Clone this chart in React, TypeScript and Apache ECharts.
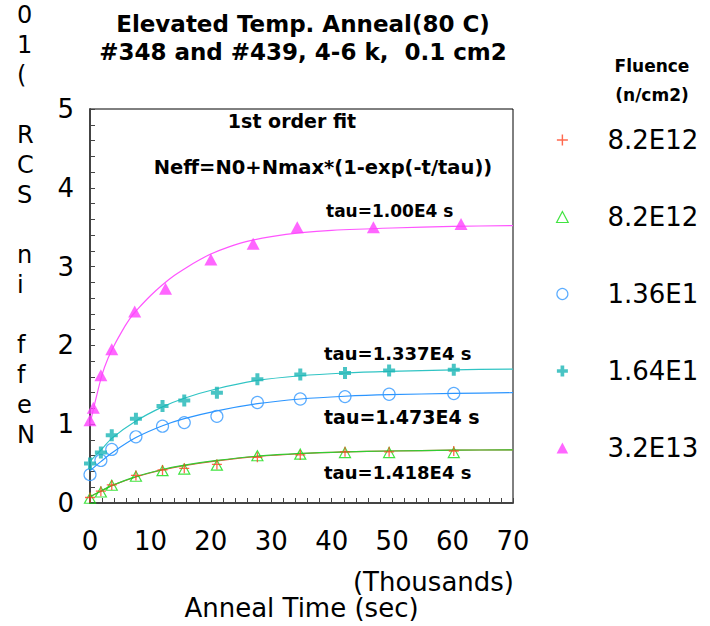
import React, { useEffect, useRef } from "react";
import * as echarts from "echarts";

// ---------- data (times in thousands of seconds, Neff in 1e10 SCR) ----------
const timesA = [0, 1.8, 3.6, 7.6, 12.0, 15.6, 21.0, 27.7, 34.8, 42.2, 49.5, 60.2];
const red82 = [0.07, 0.15, 0.23, 0.35, 0.42, 0.44, 0.49, 0.58, 0.61, 0.65, 0.65, 0.66];
const green82 = [0.06, 0.14, 0.225, 0.34, 0.41, 0.43, 0.48, 0.6, 0.62, 0.64, 0.64, 0.64];
const blue136 = [0.36, 0.54, 0.68, 0.84, 0.975, 1.02, 1.1, 1.275, 1.32, 1.35, 1.38, 1.39];
const cyan164 = [0.5, 0.64, 0.86, 1.07, 1.23, 1.3, 1.4, 1.57, 1.63, 1.65, 1.68, 1.69];
const timesB = [0, 0.55, 1.8, 3.6, 7.4, 12.5, 20.0, 27.0, 34.3, 46.9, 61.4];
const mag32 = [1.05, 1.21, 1.62, 1.95, 2.43, 2.72, 3.09, 3.29, 3.5, 3.5, 3.54];

// fitted curves
const fitTimes = [0, 1.8, 3.6, 7.6, 12, 15.6, 21, 27.7, 34.8, 42.2, 49.5, 60.2, 70];
const fitRed = [0.08, 0.15, 0.22, 0.33, 0.42, 0.475, 0.535, 0.59, 0.625, 0.648, 0.66, 0.67, 0.675];
const fitGreen = [0.08, 0.15, 0.22, 0.335, 0.425, 0.48, 0.54, 0.595, 0.63, 0.65, 0.66, 0.67, 0.675];
const fitBlue = [0.41, 0.525, 0.635, 0.83, 0.98, 1.07, 1.17, 1.26, 1.32, 1.355, 1.375, 1.39, 1.4];
const fitCyan = [0.53, 0.67, 0.82, 1.04, 1.22, 1.33, 1.45, 1.555, 1.615, 1.65, 1.67, 1.69, 1.7];
const fitMagTimes = [0, 1, 2, 3, 4, 5, 6, 7, 8, 10, 12, 14, 16, 18, 20, 23, 26, 30, 35, 40, 50, 60, 70];
const fitMag = [1.0, 1.33, 1.63, 1.84, 2.0, 2.14, 2.27, 2.38, 2.47, 2.63, 2.77, 2.89, 2.99, 3.08, 3.16, 3.25, 3.32, 3.38, 3.43, 3.46, 3.49, 3.51, 3.52];

// legend labels (as visible in the reference, where the last digit is cut off)
const legendLabels: Record<string, string> = {
  r82: "8.2E12",
  g82: "8.2E12",
  b136: "1.36E1",
  c164: "1.64E1",
  m32: "3.2E13",
};

const titleText = "Elevated Temp. Anneal(80 C)\n#348 and #439, 4-6 k,  0.1 cm2";
const yNameChars = ["0", "1", "(", " ", "R", "C", "S", " ", "n", "i", " ", "f", "f", "e", "N"];

const FONT = "DejaVu Sans";
const thinPlus = "path://M4.35,0H5.65V4.35H10V5.65H5.65V10H4.35V5.65H0V4.35H4.35Z";
const thickPlus = "path://M4,0H8V4H12V8H8V12H4V8H0V4H4Z";
const triPath = "path://M5,0L10,9.5L0,9.5Z";

const pairs = (xs: number[], ys: number[]) => xs.map((x, i) => [x, ys[i]]);

function txt(text: string, x: number, y: number, size: number, bold: boolean, align = "left", vAlign = "middle", extra: any = {}) {
  return {
    type: "text",
    x,
    y,
    silent: true,
    style: {
      text,
      fontSize: size,
      fontFamily: FONT,
      fontWeight: bold ? "bold" : "normal",
      fill: "#000",
      align,
      verticalAlign: vAlign,
      textAlign: align,
      textVerticalAlign: vAlign,
      ...extra,
    },
  };
}

export default function App() {
  const ref = useRef<HTMLDivElement>(null);
  useEffect(() => {
    if (!ref.current) return;
    const chart = echarts.init(ref.current, null, { renderer: "svg" });
    const fitLine = (name: string, xs: number[], ys: number[], color: string) => ({
      name,
      type: "line",
      data: pairs(xs, ys),
      smooth: 0.3,
      showSymbol: false,
      symbol: "none",
      lineStyle: { color, width: 1.2 },
      z: 2,
      silent: true,
    });
    const option: any = {
      animation: false,
      backgroundColor: "#fff",
      title: {
        text: titleText,
        left: 303,
        top: 10,
        padding: 0,
        textAlign: "center",
        textStyle: { fontFamily: FONT, fontWeight: "bold", fontSize: 23, lineHeight: 28, color: "#000" },
      },
      grid: {
        left: 90,
        right: 197,
        top: 109,
        bottom: 118,
        show: true,
        borderColor: "#000",
        borderWidth: 1,
        backgroundColor: "transparent",
      },
      xAxis: {
        type: "value",
        min: 0,
        max: 70,
        interval: 10,
        name: "Anneal Time (sec)",
        nameLocation: "middle",
        nameGap: 92,
        nameTextStyle: { fontFamily: FONT, fontSize: 26, color: "#000" },
        axisLine: { show: true, onZero: false, lineStyle: { color: "#444", width: 2 } },
        axisTick: { show: true, inside: true, length: 5, lineStyle: { color: "#444" } },
        minorTick: { show: true, splitNumber: 5, length: 5, lineStyle: { color: "#444" } },
        splitLine: { show: false },
        axisLabel: { fontFamily: FONT, fontSize: 26, color: "#000", margin: 25 },
      },
      yAxis: {
        type: "value",
        min: 0,
        max: 5,
        interval: 1,
        axisLine: { show: true, onZero: false, lineStyle: { color: "#444", width: 2 } },
        axisTick: { show: true, inside: true, length: 5, lineStyle: { color: "#444" } },
        minorTick: { show: true, splitNumber: 5, length: 5, lineStyle: { color: "#444" } },
        splitLine: { show: false },
        axisLabel: { fontFamily: FONT, fontSize: 26, color: "#000", margin: 16 },
      },
      legend: {
        orient: "vertical",
        left: 556,
        top: 127,
        itemWidth: 80,
        itemHeight: 11,
        itemGap: 51,
        selectedMode: false,
        padding: 0,
        data: [
          { name: "r82", itemStyle: { borderWidth: 0 } },
          { name: "g82", itemStyle: { borderWidth: 1.2 } },
          { name: "b136", itemStyle: { borderWidth: 1.2 } },
          { name: "c164", itemStyle: { borderWidth: 0 } },
          { name: "m32", itemStyle: { borderWidth: 0 } },
        ],
        formatter: (n: string) => legendLabels[n],
        textStyle: {
          fontFamily: FONT,
          fontSize: 26,
          lineHeight: 26,
          color: "#000",
          width: 92,
          overflow: "none",
        },
      },
      graphic: [
        txt(yNameChars.join("\n"), 17, 0, 24, false, "left", "top", { lineHeight: 30 }),
        txt("(Thousands)", 514, 582, 26, false, "right", "middle"),
        txt("Fluence", 652, 66, 17, true, "center", "middle"),
        txt("(n/cm2)", 652, 95, 17, true, "center", "middle"),
        txt("1st order fit", 292, 121, 19, true, "center", "middle"),
        txt("Neff=N0+Nmax*(1-exp(-t/tau))", 323, 167, 19.5, true, "center", "middle"),
        txt("tau=1.00E4 s", 326, 211, 17, true, "left", "middle"),
        txt("tau=1.337E4 s", 324, 353, 18, true, "left", "middle"),
        txt("tau=1.473E4 s", 324, 417, 19, true, "left", "middle"),
        txt("tau=1.418E4 s", 324, 472, 18, true, "left", "middle"),
      ],
      series: [
        fitLine("fit r82", fitTimes, fitRed, "#e0583a"),
        fitLine("fit g82", fitTimes, fitGreen, "#33cc33"),
        fitLine("fit b136", fitTimes, fitBlue, "#2b95ff"),
        fitLine("fit c164", fitTimes, fitCyan, "#30c4c4"),
        fitLine("fit m32", fitMagTimes, fitMag, "#ff55ff"),
        {
          name: "g82",
          type: "scatter",
          data: pairs(timesA, green82),
          symbol: triPath,
          symbolSize: [11, 10],
          itemStyle: { color: "rgba(255,255,255,0)", borderColor: "#11dd11", borderWidth: 1.2 },
          z: 3,
        },
        {
          name: "r82",
          type: "scatter",
          data: pairs(timesA, red82),
          symbol: thinPlus,
          symbolSize: 10,
          itemStyle: { color: "#ff4422" },
          z: 4,
        },
        {
          name: "b136",
          type: "scatter",
          data: pairs(timesA, blue136),
          symbol: "circle",
          symbolSize: 12,
          itemStyle: { color: "rgba(255,255,255,0)", borderColor: "#3399ff", borderWidth: 1.2 },
          z: 3,
        },
        {
          name: "c164",
          type: "scatter",
          data: pairs(timesA, cyan164),
          symbol: thickPlus,
          symbolSize: 12,
          itemStyle: { color: "#1bb5b5" },
          z: 3,
        },
        {
          name: "m32",
          type: "scatter",
          data: pairs(timesB, mag32),
          symbol: triPath,
          symbolSize: [13, 12],
          itemStyle: { color: "#ff40ff" },
          z: 3,
        },
      ],
    };
    chart.setOption(option);
    return () => chart.dispose();
  }, []);
  return (
    <div
      ref={ref}
      style={{ position: "fixed", left: 0, top: 0, width: 710, height: 626, background: "#fff" }}
    />
  );
}
